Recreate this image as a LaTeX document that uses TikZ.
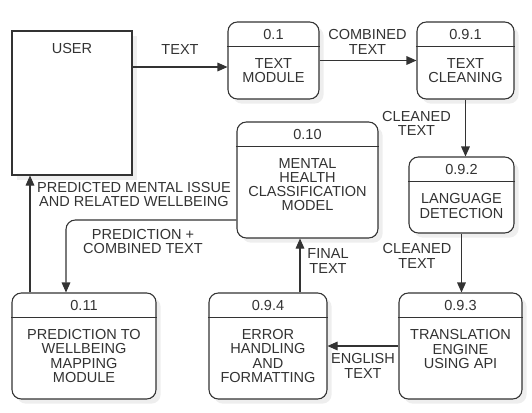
\documentclass[tikz,border=0pt]{standalone}
\usepackage{fontspec}
\setmainfont{Liberation Sans}
\usetikzlibrary{positioning, arrows.meta, shadows, calc}
\definecolor{inkgray}{HTML}{333333}
\definecolor{shadowgray}{HTML}{EEEEEE}

\begin{document}
\begin{tikzpicture}[x=0.75pt, y=-0.75pt, font=\fontsize{10.9}{10.7}\selectfont, text=inkgray,
		box/.style={draw=inkgray, line width=0.8pt, fill=white, inner sep=0pt, drop shadow={shadow xshift=3.5pt, shadow yshift=-3.5pt, fill=shadowgray, opacity=1}},
		proc/.style={box, rounded corners=7pt},
		lbl/.style={align=center, inner sep=0pt},
		flow/.style={draw=inkgray, line width=0.8pt, -{Triangle[length=7.5pt, width=6.5pt]}}]
		\useasboundingbox (0,0) rectangle (532,412);
		% entity
		\node[box, minimum width=90pt, minimum height=108pt] (user) at (72,103) {};
		\node[lbl] (user-t) at (72,48.5) {USER};
		% processes
		\node[proc, minimum width=68.25pt, minimum height=57.75pt] (p01) at (273.5,60.5) {};
		\node[proc, minimum width=72.75pt, minimum height=57.75pt] (p091) at (465.5,60.5) {};
		\node[proc, minimum width=78.75pt, minimum height=57pt] (p092) at (461.5,195) {};
		\node[proc, minimum width=105.75pt, minimum height=87pt] (p010) at (307.5,180) {};
		\node[proc, minimum width=108pt, minimum height=79.5pt] (p011) at (84,346) {};
		\node[proc, minimum width=88.5pt, minimum height=79.5pt] (p094) at (268,346) {};
		\node[proc, minimum width=92.25pt, minimum height=79.5pt] (p093) at (460.5,346) {};
		% headers
		\foreach \p in {p01, p091, p092, p010, p011, p094, p093}
			\draw[inkgray, line width=0.8pt] ([yshift=-19pt]\p.north west) -- ([yshift=-19pt]\p.north east);
		\node[lbl] (p01-n) at ([yshift=-9.5pt]p01.north) {0.1};
		\node[lbl] (p091-n) at ([yshift=-9.5pt]p091.north) {0.9.1};
		\node[lbl] (p092-n) at ([yshift=-9.5pt]p092.north) {0.9.2};
		\node[lbl] (p010-n) at ([yshift=-9.5pt]p010.north) {0.10};
		\node[lbl] (p011-n) at ([yshift=-9.5pt]p011.north) {0.11};
		\node[lbl] (p094-n) at ([yshift=-9.5pt]p094.north) {0.9.4};
		\node[lbl] (p093-n) at ([yshift=-9.5pt]p093.north) {0.9.3};
		\node[lbl] (p01-t) at (273.5,70.5) {TEXT\\MODULE};
		\node[lbl] (p091-t) at (465.5,70.5) {TEXT\\CLEANING};
		\node[lbl] (p092-t) at (461.5,206) {LANGUAGE\\DETECTION};
		\node[lbl] (p010-t) at (307.5,184.5) {MENTAL\\HEALTH\\CLASSIFICATION\\MODEL};
		\node[lbl] (p011-t) at (84,356) {PREDICTION TO\\WELLBEING\\MAPPING\\MODULE};
		\node[lbl] (p094-t) at (268,356) {ERROR\\HANDLING\\AND\\FORMATTING};
		\node[lbl] (p093-t) at (460.5,349) {TRANSLATION\\ENGINE\\USING API};
		% flows
		\draw[flow] ([yshift=27pt]user.east) coordinate (u1) -- (u1 -| p01.west);
		\draw[flow] (p01.east) -- (p091.west);
		\draw[flow] (p091.south) -- (p091.south |- p092.north);
		\draw[flow] (p092.south) -- (p092.south |- p093.north);
		\draw[flow] (p093.west) -- (p094.east);
		\draw[flow] ([xshift=24pt]p094.north) coordinate (q1) -- (q1 |- p010.south);
		\draw[flow, rounded corners=7pt] ([yshift=-30pt]p010.west) -| ([xshift=-13.5pt]p011.north);
		\draw[flow] ([xshift=-40.5pt]p011.north) coordinate (q2) -- (q2 |- user.south);
		% flow labels
		\node[lbl] (l-text) at (180,49) {TEXT};
		\node[lbl] (l-comb) at (367.5,42) {COMBINED\\TEXT};
		\node[lbl] (l-clean1) at (416.5,123.5) {CLEANED\\TEXT};
		\node[lbl] (l-clean2) at (417,256) {CLEANED\\TEXT};
		\node[lbl] (l-eng) at (363,366) {ENGLISH\\TEXT};
		\node[lbl] (l-final) at (328,261) {FINAL\\TEXT};
		\node[lbl] (l-pred) at (143,241.5) {PREDICTION +\\COMBINED TEXT};
		\node[lbl] (l-issue) at (134,194.5) {PREDICTED MENTAL ISSUE\\AND RELATED WELLBEING};
	\end{tikzpicture}
\end{document}
